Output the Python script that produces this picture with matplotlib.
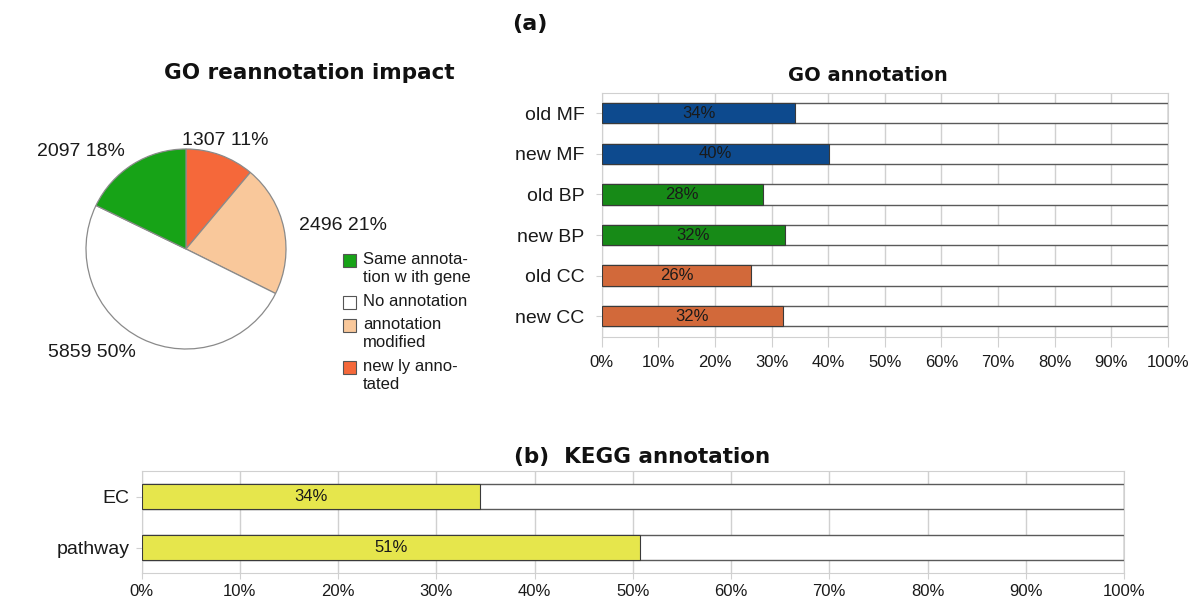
import numpy as np
import matplotlib.pyplot as plt
from matplotlib.patches import Rectangle

# Pie slices, clockwise from 12 o'clock
pie_counts = [1307, 2496, 5859, 2097]
pie_colors = ['#f5683a', '#f9c89b', '#ffffff', '#17a317']

# Legend entries as listed in the reference
legend_labels = ['Same annota-\ntion w ith gene', 'No annotation',
                 'annotation\nmodified', 'new ly anno-\ntated']
legend_colors = ['#17a317', '#ffffff', '#f9c89b', '#f5683a']

# GO annotation coverage (%)
go_categories = ['old MF', 'new MF', 'old BP', 'new BP', 'old CC', 'new CC']
go_values = [34.2, 40.2, 28.4, 32.4, 26.4, 32.0]
go_colors = ['#0d4a8e', '#0d4a8e', '#178a17', '#178a17', '#d2693a', '#d2693a']

# KEGG annotation coverage (%)
kegg_categories = ['EC', 'pathway']
kegg_values = [34.4, 50.7]
kegg_colors = ['#e6e64c', '#e6e64c']

pct_ticks = np.arange(0, 101, 10)
pct_labels = [f'{t}%' for t in pct_ticks]

W, H = 1200, 615
plt.rcParams['font.family'] = ['Liberation Sans', 'DejaVu Sans']
plt.rcParams['text.color'] = '#1a1a1a'
plt.rcParams['xtick.labelcolor'] = '#1a1a1a'
plt.rcParams['ytick.labelcolor'] = '#1a1a1a'


def px(x0, y0, x1, y1):
    # pixel box (origin top-left) -> figure fraction rect
    return [x0 / W, 1 - y1 / H, (x1 - x0) / W, (y1 - y0) / H]


def title(x, y, s, size):
    fig.text(x / W, 1 - y / H, s, ha='center', va='baseline', fontsize=size,
             weight='bold', family='DejaVu Sans', color='#111111')


# Horizontal percentage bars on a white 100% track
def bar_panel(ax, cats, vals, colors, cat_size, ytick_pad, xtick_len, xtick_pad):
    y = np.arange(len(cats))
    ax.barh(y, 100, height=0.5, color='white', edgecolor='#5a5a5a', linewidth=1, zorder=2)
    ax.barh(y, vals, height=0.5, color=colors, edgecolor='#3a3a3a', linewidth=0.8, zorder=3)
    for yi, v in zip(y, vals):
        ax.text(v / 2, yi, f'{round(v)}%', ha='center', va='center', fontsize=12,
                color='#1a1a1a', zorder=4)
    ax.set_xlim(0, 100)
    ax.set_ylim(len(cats) - 0.5, -0.5)
    ax.set_yticks(y, cats, fontsize=cat_size)
    ax.set_xticks(pct_ticks, pct_labels, fontsize=12)
    ax.grid(axis='x', color='#d0d0d0', linewidth=1)
    ax.set_axisbelow(True)
    for s in ax.spines.values():
        s.set_color('#d0d0d0')
    ax.tick_params(axis='x', length=xtick_len, color='#d0d0d0', pad=xtick_pad)
    ax.tick_params(axis='y', length=4.5, color='#d0d0d0', pad=ytick_pad)


fig = plt.figure(figsize=(W / 100, H / 100), dpi=100)

title(530, 30, '(a)', 16)

# Pie chart
ax_pie = fig.add_axes(px(85, 148, 287, 350))
total = sum(pie_counts)
pie_labels = [f'{c} {round(100 * c / total)}%' for c in pie_counts]
wedges, texts = ax_pie.pie(pie_counts, colors=pie_colors, startangle=90, counterclock=False,
                           labels=pie_labels, labeldistance=1.15,
                           wedgeprops=dict(edgecolor='#8a8a8a', linewidth=0.9),
                           textprops=dict(fontsize=14, color='#1a1a1a'))
for t in texts:
    if abs(t.get_position()[0]) < 0.45:
        t.set_ha('center')
ax_pie.set_aspect('equal')
ax_pie.set_xlim(-1.01, 1.01)
ax_pie.set_ylim(-1.01, 1.01)
title(309, 79, 'GO reannotation impact', 15.5)

# Legend drawn by hand so markers line up with the first text line
ly = 261
for label, color in zip(legend_labels, legend_colors):
    fig.add_artist(Rectangle((343 / W, 1 - (ly + 5.5) / H), 13 / W, 13 / H,
                             transform=fig.transFigure, facecolor=color,
                             edgecolor='#555555', linewidth=0.8))
    fig.text(363 / W, 1 - (ly - 9) / H, label, ha='left', va='top', fontsize=12,
             linespacing=1.22)
    ly += 19 * (label.count('\n') + 1) + 4

# GO annotation bars
ax_go = fig.add_axes(px(601.7, 93, 1168, 336.5))
bar_panel(ax_go, go_categories, go_values, go_colors, 14, 8, 7, 6)
title(868, 80.7, 'GO annotation', 14)

# KEGG annotation bars
ax_kegg = fig.add_axes(px(141.7, 471, 1124, 573))
bar_panel(ax_kegg, kegg_categories, kegg_values, kegg_colors, 14, 4.5, 4, 4)
title(642, 463, '(b)  KEGG annotation', 15.5)

fig.savefig('out.png', dpi=100)
